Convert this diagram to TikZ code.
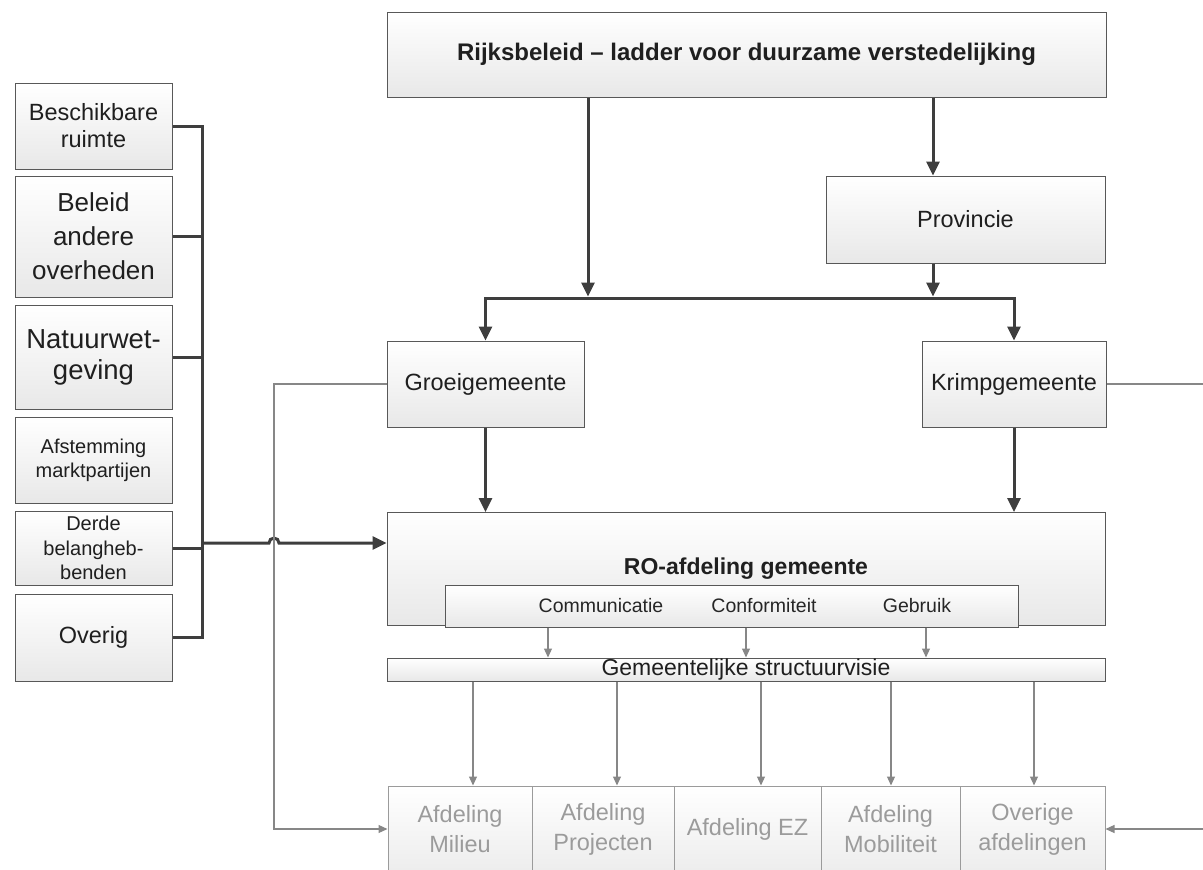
\documentclass[tikz,border=0pt]{standalone}
\usepackage{fontspec}
\setmainfont{Liberation Sans}
\usepackage{tikz}
\usetikzlibrary{arrows.meta,positioning,calc}
\definecolor{xline}{RGB}{88,88,88}
\definecolor{xheavy}{RGB}{62,62,62}
\definecolor{xthin}{RGB}{135,135,135}
\definecolor{xfade}{RGB}{155,155,155}
\definecolor{xshade}{RGB}{232,232,232}

\begin{document}
\begin{tikzpicture}[x=1pt, y=-1pt,
  box/.style={draw=xline, line width=1pt, top color=white, bottom color=xshade,
              inner sep=0pt, align=center, text=black!88},
  side/.style={box, minimum width=157pt},
  dept/.style={box, draw=xfade, text=xfade, bottom color=xshade!80, minimum height=86pt,
               font=\fontsize{23.5}{30}\selectfont},
  heavy/.style={line width=3pt, color=xheavy},
  harr/.style={heavy, -{Triangle[length=14pt,width=13pt]}},
  tarr/.style={line width=1.2pt, color=xthin, -{Triangle[length=9pt,width=8pt]}},
  big/.style={font=\fontsize{23.5}{28}\selectfont},
  lbl/.style={font=\fontsize{19.5}{22}\selectfont, text=black!85}
]
  \useasboundingbox (0,0) rectangle (1203,870);

  % top part
  \node[box, minimum width=719pt, minimum height=85pt, font=\bfseries\fontsize{24}{28}\selectfont]
    (rijk) at (746.5,54.5) {Rijksbeleid – ladder voor duurzame verstedelijking};
  \node[box, big, minimum width=279pt, minimum height=87pt] (prov)  at (965.5,219.5) {Provincie};
  \node[box, big, minimum width=197pt, minimum height=86pt] (groei) at (485.5,384) {Groeigemeente};
  \node[box, big, minimum width=184pt, minimum height=86pt] (krimp) at (1014,384) {Krimpgemeente};

  % RO-afdeling
  \node[box, minimum width=718pt, minimum height=113pt, font=\bfseries\fontsize{23}{27}\selectfont]
    (ro) at (746,569) {RO-afdeling gemeente};
  \node[box, minimum width=573pt, minimum height=42pt] (taken) at (731.5,606) {};
  \node[lbl] (comm) at (601,606) {Communicatie};
  \node[lbl] (conf) at (764,606) {Conformiteit};
  \node[lbl] (gebr) at (917,606) {Gebruik};
  \node[box, minimum width=718pt, minimum height=23pt, font=\fontsize{23}{24}\selectfont]
    (visie) at (746,669.5) {Gemeentelijke structuurvisie};

  % afdelingen
  \node[dept, minimum width=144pt] (mil)  at (460,829)    {Afdeling\\Milieu};
  \node[dept, minimum width=142pt] (proj) at (603,829)    {Afdeling\\Projecten};
  \node[dept, minimum width=147pt] (ez)   at (747.5,829)  {Afdeling EZ};
  \node[dept, minimum width=139pt] (mob)  at (890.5,829)  {Afdeling\\Mobiliteit};
  \node[dept, minimum width=145pt] (ovr)  at (1032.5,829) {Overige\\afdelingen};

  % factoren links
  \node[side, minimum height=86pt,  font=\fontsize{23.5}{27}\selectfont] (f1) at (93.5,126)   {Beschikbare\\ruimte};
  \node[side, minimum height=121pt, font=\fontsize{26}{34}\selectfont]   (f2) at (93.5,236.5) {Beleid\\andere\\overheden};
  \node[side, minimum height=104pt, font=\fontsize{27.5}{31}\selectfont] (f3) at (93.5,357)   {Natuurwet-\\geving};
  \node[side, minimum height=86pt,  font=\fontsize{20}{24}\selectfont]   (f4) at (93.5,460)   {Afstemming\\marktpartijen};
  \node[side, minimum height=74pt,  font=\fontsize{20}{24.5}\selectfont] (f5) at (93.5,548)   {Derde\\belangheb-\\benden};
  \node[side, minimum height=87pt,  font=\fontsize{23.5}{27}\selectfont] (f6) at (93.5,637.5) {Overig};

  \coordinate (bus) at (202,0);
  \coordinate (hub) at (202,543);
  \coordinate (jl)  at (588,298);
  \coordinate (jr)  at (933,298);
  \coordinate (gl)  at (274,0);
  \coordinate (gr)  at (1220,0);

  \draw[heavy] (f1.east) -- (f1.east -| bus) |- (f6.east);
  \foreach \f in {f2,f3,f5}{
    \draw[heavy] (\f.east) -- (\f.east -| bus);
  }
  \draw[harr] (hub) -- ($(hub -| gl)+(-5,0)$)
    arc[start angle=180, end angle=0, radius=5pt] -- (ro.west |- hub);

  \draw[harr, shorten >=1.5pt] (rijk.south -| jl) -- (jl);
  \draw[harr] (rijk.south -| jr) -- (prov.north -| jr);
  \draw[harr, shorten >=1.5pt] (prov.south -| jr) -- (jr);
  \draw[harr] (jl) -| (groei.north);
  \draw[harr] (jl) -| (krimp.north);
  \draw[harr] (groei.south) -- (groei.south |- ro.north);
  \draw[harr] (krimp.south) -- (krimp.south |- ro.north);

  \foreach \x in {548,746,926}{
    \draw[tarr] (\x,0 |- taken.south) -- (\x,0 |- visie.north);
  }
  \foreach \x/\d in {473/mil,617/proj,761/ez,891/mob,1034/ovr}{
    \draw[tarr] (\x,0 |- visie.south) -- (\x,0 |- \d.north);
  }

  \draw[tarr] (groei.west) -- (groei.west -| gl) |- (mil.west);
  \draw[tarr] (krimp.east) -- (krimp.east -| gr) |- (ovr.east);
\end{tikzpicture}
\end{document}
